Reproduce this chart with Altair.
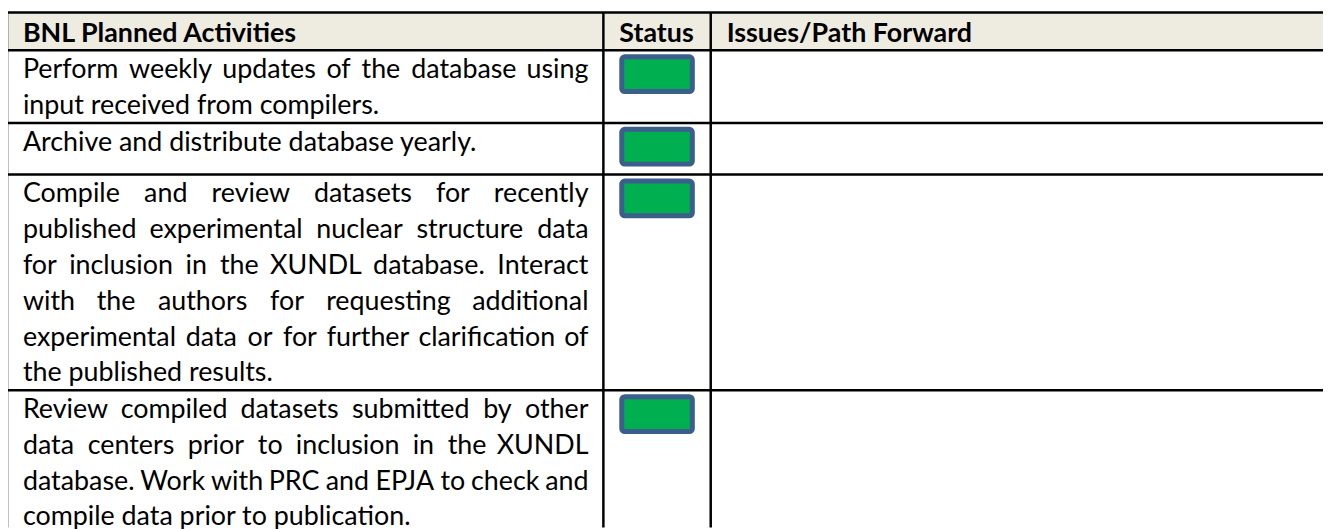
import altair as alt
import pandas as pd

# ---------------- data ----------------
headers = ["BNL Planned Activities", "Status", "Issues/Path Forward"]
activities = [
    ["Perform weekly updates of the database using",
     "input received from compilers."],
    ["Archive and distribute database yearly."],
    ["Compile and review datasets for recently",
     "published experimental nuclear structure data",
     "for inclusion in the XUNDL database. Interact",
     "with the authors for requesting additional",
     "experimental data or for further clarification of",
     "the published results."],
    ["Review compiled datasets submitted by other",
     "data centers prior to inclusion in the XUNDL",
     "database. Work with PRC and EPJA to check and",
     "compile data prior to publication."],
]
status = ["Green", "Green", "Green", "Green"]
issues = ["", "", "", ""]

# ---------------- layout (page pixel space) ----------------
PAGE_W, PAGE_H, MARGIN = 1331, 529, 8
W, H = PAGE_W - MARGIN, PAGE_H - MARGIN
COL_EDGES = [7, 607, 715, PAGE_W + 20]
TABLE_TOP, HEADER_BOTTOM = 11, 49
LINE = 36
MIN_ROW = 52
PAD_X = 16
TEXT_RIGHT = 592
FONT = "Lato"
FS = 27

# approximate advance widths (em) of the text font, used for justification
_W = dict(zip("abcdefghijklmnopqrstuvwxyz",
              [.50, .56, .46, .56, .52, .32, .50, .55, .24, .24, .50, .24, .83,
               .55, .56, .55, .55, .37, .42, .35, .55, .50, .75, .48, .50, .46]))
_W.update(dict(zip("ABCDEFGHIJKLMNOPQRSTUVWXYZ",
                   [.66, .62, .66, .72, .55, .53, .70, .73, .28, .38, .64, .50, .88,
                    .73, .77, .59, .77, .61, .53, .57, .70, .66, .98, .64, .61, .60])))
_W.update({".": .22, ",": .22, "/": .38, "-": .33})


def word_w(w):
    return sum(_W.get(c, .5) for c in w) * FS


row_tops = [HEADER_BOTTOM]
for lines in activities:
    row_tops.append(row_tops[-1] + max(len(lines) * LINE + 1, MIN_ROW))

# header fill
header_df = pd.DataFrame([{"x": COL_EDGES[0], "x2": COL_EDGES[-1],
                           "y": TABLE_TOP, "y2": HEADER_BOTTOM}])

# grid lines
rules = []
for yy in [TABLE_TOP] + row_tops:
    rules.append({"x": COL_EDGES[0], "x2": COL_EDGES[-1], "y": yy, "y2": yy})
for xx in COL_EDGES[:3]:
    rules.append({"x": xx, "x2": xx, "y": TABLE_TOP, "y2": PAGE_H + 20})
rules_df = pd.DataFrame(rules)

# header texts
htext = []
for i, h in enumerate(headers):
    htext.append({"x": COL_EDGES[i] + PAD_X, "y": TABLE_TOP + 30, "t": h})
htext_df = pd.DataFrame(htext)

# body texts (justified, last line of each paragraph left aligned)
btext = []
left = COL_EDGES[0] + PAD_X
for r, lines in enumerate(activities):
    for k, ln in enumerate(lines):
        base = row_tops[r] + 28 + k * LINE
        words = ln.split(" ")
        if k == len(lines) - 1 or len(words) < 2:
            btext.append({"x": left, "y": base, "t": ln, "a": "left"})
            continue
        widths = [word_w(w) for w in words]
        gap = (TEXT_RIGHT - left - sum(widths)) / (len(words) - 1)
        pos = left
        for i, (w, ww) in enumerate(zip(words, widths)):
            if i == 0:
                btext.append({"x": left, "y": base, "t": w, "a": "left"})
            elif i == len(words) - 1:
                btext.append({"x": TEXT_RIGHT, "y": base, "t": w, "a": "right"})
            else:
                btext.append({"x": pos + ww / 2, "y": base, "t": w, "a": "center"})
            pos += ww + gap
    if issues[r]:
        btext.append({"x": COL_EDGES[2] + PAD_X, "y": row_tops[r] + 28,
                      "t": issues[r], "a": "left"})
btext_df = pd.DataFrame(btext)

# status boxes
status_colors = {"Green": "#00B050", "Yellow": "#FFFF00", "Red": "#FF0000"}
boxes = []
for r, s in enumerate(status):
    boxes.append({"x": 625.5, "x2": 696.5,
                  "y": row_tops[r] + 6.5, "y2": row_tops[r] + 41.5,
                  "s": s})
box_df = pd.DataFrame(boxes)

xs = alt.Scale(domain=[MARGIN, PAGE_W], zero=False, nice=False)
ys = alt.Scale(domain=[MARGIN, PAGE_H], zero=False, nice=False, reverse=True)
X = alt.X("x:Q", scale=xs, axis=None)
Y = alt.Y("y:Q", scale=ys, axis=None)

header_fill = alt.Chart(header_df).mark_rect(color="#EEECE1", clip=True).encode(
    x=X, x2="x2:Q", y=Y, y2="y2:Q")

grid = alt.Chart(rules_df).mark_rule(color="black", strokeWidth=2.5, clip=True).encode(
    x=X, x2="x2:Q", y=Y, y2="y2:Q")

box_layer = alt.Chart(box_df).mark_rect(
    stroke="#3B5E8C", strokeWidth=5, cornerRadius=3, clip=True
).encode(
    x=X, x2="x2:Q", y=Y, y2="y2:Q",
    color=alt.Color("s:N", scale=alt.Scale(domain=list(status_colors.keys()),
                                           range=list(status_colors.values())),
                    legend=None))

header_text = alt.Chart(htext_df).mark_text(
    align="left", baseline="alphabetic", font=FONT, fontSize=FS,
    fontWeight="bold", color="black").encode(x=X, y=Y, text="t:N")


def body_layer(al):
    return alt.Chart(btext_df).transform_filter(
        alt.datum.a == al
    ).mark_text(
        align=al, baseline="alphabetic", font=FONT, fontSize=FS, color="black"
    ).encode(x=X, y=Y, text="t:N")


chart = alt.layer(
    header_fill, box_layer,
    body_layer("left"), body_layer("center"), body_layer("right"),
    header_text, grid
).properties(
    width=W, height=H, padding=0, autosize=alt.AutoSizeParams(type="none"),
    background="white"
).configure_view(stroke=None)

chart.save("out.html", embed_options={"renderer": "svg", "actions": False})
